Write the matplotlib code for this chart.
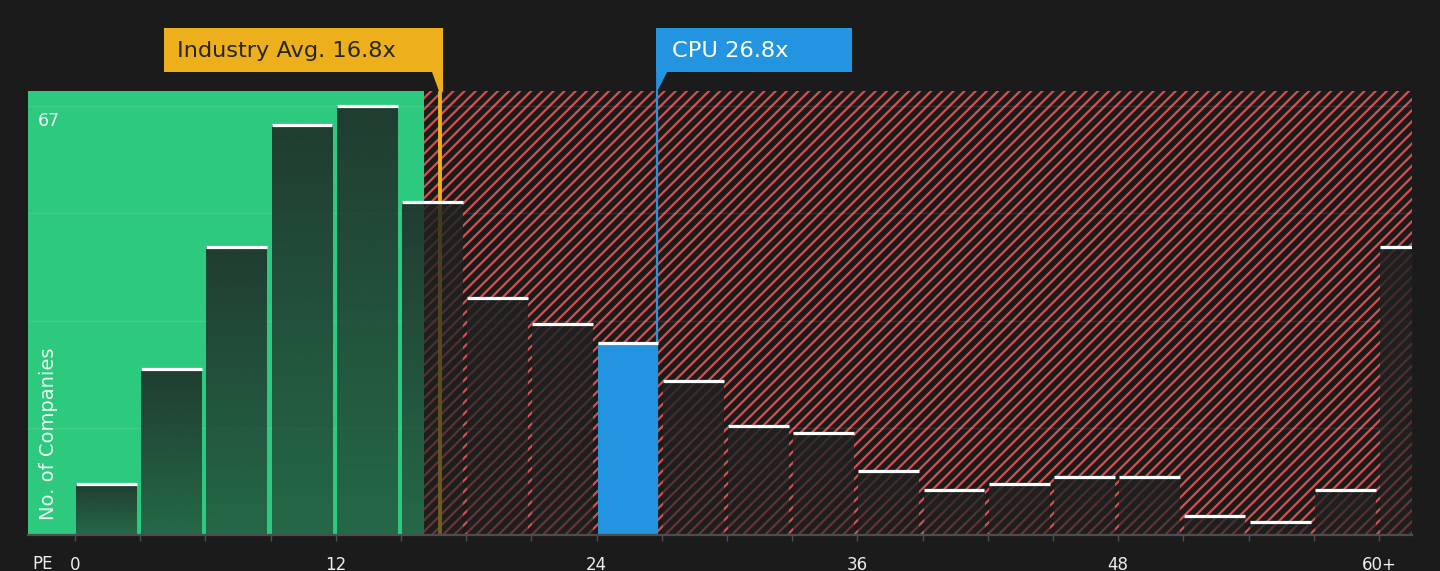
import numpy as np
import matplotlib
matplotlib.use("Agg")
import matplotlib.pyplot as plt
import matplotlib.transforms as mtransforms
from matplotlib.patches import Rectangle, Polygon

#----------------------------------------------------
# data
#----------------------------------------------------
bin_starts = [0, 3, 6, 9, 12, 15, 18, 21, 24, 27, 30, 33, 36, 39, 42, 45, 48, 51, 54, 57, 60]
counts = [8, 26, 45, 64, 67, 52, 37, 33, 30, 24, 17, 16, 10, 7, 8, 9, 9, 3, 2, 7, 45]
tick_values = [0, 12, 24, 36, 48, 60]
tick_labels = ["0", "12", "24", "36", "48", "60+"]
industry_pe = 16.8
company_pe = 26.8
company_name = "CPU"
fair_limit = 16.06   # where the green zone stops

#----------------------------------------------------
# styling
#----------------------------------------------------
bg = "#1b1b1b"
green = "#2dc97e"
red_hatch = "#d65050"
blue = "#2394e0"
gold = "#edb01c"
bin_w = 3
plt.rcParams["font.family"] = ["DejaVu Sans"]
plt.rcParams["hatch.linewidth"] = 1.6

fig = plt.figure(figsize=(14.4, 5.71), dpi=100, facecolor=bg)
ax = fig.add_axes([28 / 1440, 36 / 571, 1384 / 1440, 444 / 571])
ax.set_facecolor(bg)

x_lo, x_hi = -2.16, 61.52
y_max = max(counts)
y_hi = y_max * 1.035

# background zones
ax.axvspan(x_lo, fair_limit, color=green, lw=0, zorder=0)
ax.axvspan(fair_limit, x_hi, facecolor="none", edgecolor=red_hatch, hatch="///", lw=0, zorder=0.5)

# faint grid
for g in np.arange(1, 5) * y_max / 4:
    ax.axhline(g, color="white", alpha=0.09, lw=1, zorder=1)

# reference lines (sit behind the bars)
ax.axvline(industry_pe, color=gold, lw=2.8, zorder=1.5)
ax.axvline(company_pe, color=blue, lw=1.6, zorder=4)

# bars with a top-to-bottom shade
grad = np.zeros((100, 1, 4))
grad[:, 0, 0] = 30 / 255
grad[:, 0, 1] = 34 / 255
grad[:, 0, 2] = 33 / 255
grad[:, 0, 3] = np.linspace(0.84, 0.58, 100)

for start, c in zip(bin_starts, counts):
    x0 = start + 0.05
    w = bin_w - 0.2
    if start <= company_pe < start + bin_w:
        ax.bar(x0, c, width=w, align="edge", color=blue, lw=0, zorder=3)
    else:
        ax.imshow(grad, extent=[x0, x0 + w, 0, c], aspect="auto", zorder=3,
                  interpolation="bilinear")
    ax.hlines(c, x0, x0 + w, color="white", lw=2.3, zorder=5)

ax.set_xlim(x_lo, x_hi)
ax.set_ylim(0, y_hi)

# axis styling
for s in ["top", "left", "right"]:
    ax.spines[s].set_visible(False)
ax.spines["bottom"].set_color("#4d4d4d")
ax.spines["bottom"].set_linewidth(1.6)
ax.spines["bottom"].set_zorder(6)
ax.set_yticks([])
edges = np.arange(0, 61 + 1, bin_w)
labels = []
for e in edges:
    if e in tick_values:
        labels.append(tick_labels[tick_values.index(e)])
    else:
        labels.append("")
ax.set_xticks(edges)
ax.set_xticklabels(labels)
ax.tick_params(axis="x", length=4, width=1, color="#4d4d4d", pad=11,
               labelsize=12, labelcolor="#eeeeee")

ax.text(0.003, -0.0766, "PE", transform=ax.transAxes, ha="left", va="baseline",
        fontsize=12, color="#eeeeee")
ax.text(0.0072, y_max / y_hi * 0.965, str(y_max), transform=ax.transAxes, ha="left",
        va="center", fontsize=12.5, color="#f4f4f4", zorder=6)
ax.text(0.0145, 0.034, "No. of Companies", transform=ax.transAxes, rotation=90,
        ha="center", va="bottom", fontsize=14, color="white", alpha=0.9, zorder=6)

#----------------------------------------------------
# callout boxes above the plot
#----------------------------------------------------
trans = mtransforms.blended_transform_factory(ax.transData, ax.transAxes)
box_lo, box_hi = 1.0428, 1.1419

# industry average
ax.add_patch(Rectangle((industry_pe + 0.12 - 12.83, box_lo), 12.83, box_hi - box_lo,
                       transform=trans, color=gold, clip_on=False, lw=0, zorder=7))
ax.add_patch(Polygon([(industry_pe - 0.39, box_lo + 0.001), (industry_pe + 0.12, box_lo + 0.001),
                      (industry_pe + 0.12, 1.0), (industry_pe - 0.05, 1.0)],
                     transform=trans, color=gold, clip_on=False, lw=0, zorder=7))
ax.text(industry_pe + 0.12 - 12.83 + 0.6, (box_lo + box_hi) / 2 - 0.003, f"Industry Avg. {industry_pe}x",
        transform=trans, ha="left", va="center", fontsize=16.2, color="#262626", zorder=8)

# company
ax.add_patch(Rectangle((company_pe - 0.06, box_lo), 9.02, box_hi - box_lo,
                       transform=trans, color=blue, clip_on=False, lw=0, zorder=7))
ax.add_patch(Polygon([(company_pe - 0.06, box_lo + 0.001), (company_pe + 0.46, box_lo + 0.001),
                      (company_pe - 0.0, 1.0), (company_pe - 0.06, 1.0)],
                     transform=trans, color=blue, clip_on=False, lw=0, zorder=7))
ax.text(company_pe - 0.06 + 0.74, (box_lo + box_hi) / 2 - 0.003, f"{company_name} {company_pe}x",
        transform=trans, ha="left", va="center", fontsize=16.2, color="white", zorder=8)

fig.savefig("out.png", dpi=100, facecolor=bg)
